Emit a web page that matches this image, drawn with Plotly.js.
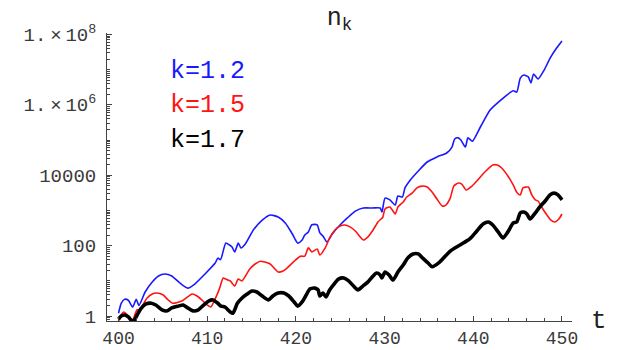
<!DOCTYPE html>
<html>
<head>
<meta charset="utf-8">
<script src="https://cdn.plot.ly/plotly-3.0.1.min.js"></script>
<style>html,body{margin:0;padding:0;background:#fff;}#chart{width:641px;height:350px;}</style>
</head>
<body>
<div id="chart"></div>
<script>
// Series names and colours
const seriesNames = ["k=1.2", "k=1.5", "k=1.7"];

// k = 1.2 (blue)
const tBlue = [400.0,400.3,400.7,401.1,401.6,402.0,402.3,403.0,403.8,404.5,405.2,406.0,406.9,407.8,408.6,409.75,410.9,411.2,411.5,412.1,412.5,412.8,413.1,413.5,413.8,414.3,415.2,416.2,417.1,418.0,418.8,419.6,420.2,420.7,421.0,421.4,421.8,422.4,422.7,423.05,423.5,424.1,425.0,425.8,426.7,427.6,428.6,429.5,429.7,430.05,430.6,431.2,431.5,432.0,432.3,432.9,433.8,434.8,435.9,437.0,437.6,437.9,438.3,438.6,439.1,439.4,439.9,440.8,441.9,443.0,444.5,444.9,445.3,445.7,446.2,446.5,446.8,447.3,448.0,448.65,449.3,450.0];
const nBlue = [1.2,2.3,3.0,2.8,1.8,3.0,2.0,4.8,9.2,13.7,15.6,13.7,8.7,6.2,8.1,15.6,32,44,40,118,104,91,66,118,86,111,277,530,740,650,440,214,118,145,200,245,390,390,229,187,126,214,390,610,955,1170,1170,1170,900,2240,1990,1420,2570,2400,4340,7300,13200,23700,33000,42800,63000,107000,115000,100000,63000,115000,93000,234000,710000,1.3e6,2.5e6,2.3e6,5.7e6,7.0e6,6.2e6,4.2e6,7.5e6,5.4e6,9.8e6,2.1e7,3.8e7,6.5e7];

// k = 1.5 (red)
const tRed = [400.0,400.3,400.6,401.1,401.6,401.9,402.1,402.4,403.2,403.8,404.3,405.0,405.6,406.1,407.2,408.3,408.85,409.4,410.0,410.4,411.1,411.4,411.8,412.1,412.6,413.1,413.5,413.9,414.8,415.4,416.0,416.5,417.1,418.0,418.55,419.0,419.7,420.5,421.0,421.4,421.8,422.4,422.7,423.3,423.8,424.4,425.0,425.5,426.1,426.7,427.6,428.1,428.7,429.25,429.6,429.8,430.05,430.6,431.2,431.5,432.1,432.5,433.1,433.65,434.2,434.8,435.35,435.9,436.5,436.9,437.4,437.8,438.3,438.7,439.2,439.85,440.4,441.3,442.2,442.7,443.2,443.9,444.5,444.9,445.3,445.6,446.2,446.6,447.0,447.3,447.7,448.3,448.75,449.2,449.65,450.0];
const nRed = [0.72,1.07,1.3,1.0,0.77,1.2,1.5,1.5,3.2,4.2,4.5,4.0,2.85,2.3,2.7,4.2,3.7,2.85,2.05,1.8,4.0,6.2,12,11.2,9.9,7.1,11.2,9.9,21.6,30,36,34,30,17.8,19,23,34,50,50,86,66,80,54,86,165,277,360,385,340,260,145,175,277,470,570,640,1100,1250,790,1250,1740,2400,3100,4340,4900,4600,3320,2100,1330,1420,2240,4900,6000,5600,3800,4900,6850,12300,19500,19500,16000,9500,5300,3300,2750,4340,4600,2750,1990,1850,1250,740,530,470,570,790];

// k = 1.7 (black)
const tBlack = [400.0,400.3,400.7,401.1,401.4,401.7,402.1,402.5,403.1,403.7,404.2,404.9,405.5,406.0,406.7,407.3,407.8,408.4,409.0,409.6,410.2,410.65,411.2,411.55,412.0,412.6,412.9,413.4,413.9,414.5,415.05,415.6,416.2,416.9,417.4,418.0,418.65,419.2,419.8,420.2,420.7,421.1,421.6,422.15,422.5,422.7,423.05,423.4,423.8,424.3,424.8,425.4,425.95,426.5,427.0,427.55,428.1,428.7,429.1,429.5,429.7,430.05,430.5,430.95,431.5,432.1,432.6,433.2,433.8,434.3,434.9,435.35,436.2,437.4,438.5,439.6,440.4,441.1,441.7,442.2,442.8,443.35,443.9,444.5,444.9,445.3,445.7,446.05,446.4,447.0,447.5,448.1,448.65,449.1,449.55,450.0];
const nBlack = [0.82,1.0,1.07,0.94,0.77,0.72,1.07,1.6,2.2,2.3,2.05,1.5,1.4,1.7,1.9,2.05,1.7,1.4,1.5,2.05,2.7,2.85,2.3,1.9,1.8,1.3,1.2,2.3,3.2,4.2,5.1,4.8,3.7,2.85,3.7,4.5,4.5,3.7,2.5,1.9,2.5,3.7,5.9,6.2,5.5,3.7,4.5,3.5,5.5,8.1,11.2,12,9.9,7.1,5.5,7.1,9.2,13.7,16.6,14.6,12,17.8,14.6,10.5,17.8,28,44,58,58,44,32,25,34,70,104,155,260,410,470,385,245,165,245,440,470,850,900,790,570,850,1250,1850,2750,3100,2750,1990];

// Axis tick labels
const xTickVals = [400, 410, 420, 430, 440, 450];
const xTickText = ["400", "410", "420", "430", "440", "450"];
const yLabelVals = [1, 100, 10000, 1e6, 1e8];
const yLabelText = ["1", "100", "10000", "1.\u2009×\u200910<sup>6</sup>", "1.\u2009×\u200910<sup>8</sup>"];

const colors = ["rgb(25,25,255)", "rgb(255,20,20)", "#000000"];
const widths = [1.6, 1.6, 3.6];
const tAll = [tBlue, tRed, tBlack];
const nAll = [nBlue, nRed, nBlack];

const traces = tAll.map((t, i) => ({
  x: t, y: nAll[i], type: "scatter", mode: "lines", name: seriesNames[i],
  line: {color: colors[i], width: widths[i], shape: "spline", smoothing: 0.6},
  hoverinfo: "none"
}));

// minor ticks: 2..9 of each decade and the unlabeled decades
const yMinor = [0.8, 0.9];
for (let e = 0; e < 8; e++) {
  for (let m = 2; m <= 9; m++) yMinor.push(m * Math.pow(10, e));
  if (e % 2 === 1) yMinor.push(Math.pow(10, e));
}

const xMinor = [];
for (let v = 400; v <= 450; v += 2) if (v % 10 !== 0) xMinor.push(v);

const mono = "Liberation Mono, DejaVu Sans Mono, monospace";

const annotations = seriesNames.map((s, i) => ({
  text: s, xref: "paper", yref: "paper", x: 0.131, y: [0.868, 0.750, 0.628][i],
  xanchor: "left", yanchor: "middle", showarrow: false,
  font: {family: mono, size: 25, color: colors[i]}
}));
annotations.push({
  text: "t", xref: "paper", yref: "paper", x: 1.036, y: 0.0, xanchor: "left", yanchor: "middle",
  showarrow: false, font: {family: mono, size: 26, color: "#222"}
});

const layout = {
  width: 641, height: 350,
  margin: {l: 107, r: 69, t: 33, b: 29, pad: 0},
  paper_bgcolor: "#fff", plot_bgcolor: "#fff",
  showlegend: false,
  title: {text: "n<sub>k</sub>", x: 0.5, xref: "paper", y: 0.955, yref: "container", yanchor: "middle",
          font: {family: mono, size: 25, color: "#222"}},
  xaxis: {
    range: [398.7, 451.13], showgrid: false, zeroline: false,
    showline: true, linecolor: "#444", linewidth: 1,
    ticks: "inside", ticklen: 5, tickcolor: "#444", tickwidth: 1,
    tickmode: "array", tickvals: xTickVals, ticktext: xTickText,
    tickfont: {family: mono, size: 18, color: "#3a3a3a"}, ticklabelstandoff: 0,
    minor: {tickmode: "array", tickvals: xMinor, ticks: "inside", ticklen: 3, tickcolor: "#444", showgrid: false}
  },
  yaxis: {
    type: "log", range: [-0.142, 8.04], showgrid: false, zeroline: false,
    showline: true, linecolor: "#444", linewidth: 1,
    ticks: "inside", ticklen: 5, tickcolor: "#444", tickwidth: 1,
    tickmode: "array", tickvals: yLabelVals, ticktext: yLabelText,
    tickfont: {family: mono, size: 19, color: "#3a3a3a"}, ticklabelstandoff: 6,
    minor: {tickmode: "array", tickvals: yMinor, ticks: "inside", ticklen: 2.5, tickcolor: "#444", showgrid: false}
  },
  annotations: annotations
};

Plotly.newPlot("chart", traces, layout, {displayModeBar: false, staticPlot: true});
</script>
</body>
</html>
